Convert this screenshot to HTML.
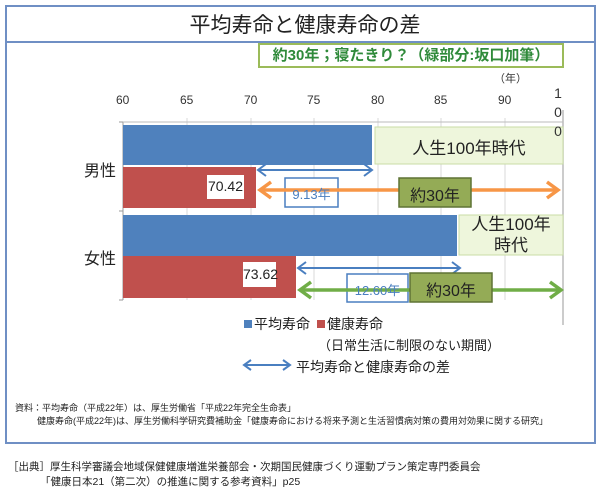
<!DOCTYPE html>
<html><head><meta charset="utf-8"><style>
body{margin:0;width:610px;height:491px;background:#fff;position:relative;overflow:hidden;font-family:"Liberation Sans","Noto Sans CJK JP",sans-serif;}
.a{position:absolute;white-space:nowrap;}
</style></head><body>
<div class="a" style="left:5px;top:5px;width:587px;height:435px;border:2px solid #6f8fc4;"></div>
<div class="a" style="left:5px;top:41px;width:590px;height:2px;background:#6f8fc4;"></div>
<div class="a" style="left:0;width:610px;top:9px;text-align:center;font-size:21px;color:#222;">平均寿命と健康寿命の差</div>
<div class="a" style="left:258px;top:43px;width:306px;height:25px;border:2px solid #9bbb59;box-sizing:border-box;text-align:center;line-height:21px;font-size:15px;font-weight:bold;color:#2f8a3a;">約30年；寝たきり？（緑部分:坂口加筆）</div>
<div class="a" style="left:494px;top:70px;font-size:11px;color:#333;">（年）</div>
<svg class="a" style="left:0;top:0" width="610" height="491">
<g stroke="#d9d9d9" stroke-width="1">
<line x1="187" y1="118" x2="187" y2="300"/><line x1="251" y1="118" x2="251" y2="300"/><line x1="314" y1="118" x2="314" y2="300"/><line x1="378" y1="118" x2="378" y2="300"/><line x1="441" y1="118" x2="441" y2="300"/><line x1="505" y1="118" x2="505" y2="300"/>
</g>
<line x1="123" y1="122" x2="123" y2="300" stroke="#999"/>
<line x1="123" y1="122" x2="563" y2="122" stroke="#bbb"/>
<line x1="119" y1="122" x2="123" y2="122" stroke="#999"/><line x1="119" y1="211" x2="123" y2="211" stroke="#999"/><line x1="119" y1="300" x2="123" y2="300" stroke="#999"/>
<line x1="563" y1="110" x2="563" y2="325" stroke="#bbb" stroke-width="1.5"/>
<rect x="123" y="125" width="249" height="40" fill="#4f81bd"/>
<rect x="123" y="167" width="133" height="41" fill="#c0504d"/>
<rect x="123" y="215" width="334" height="41" fill="#4f81bd"/>
<rect x="123" y="256" width="173" height="42" fill="#c0504d"/>
<rect x="375" y="127" width="188" height="37" fill="#eef6dc" stroke="#c9dca6"/>
<rect x="459" y="215" width="104" height="40" fill="#eef6dc" stroke="#c9dca6"/>
<rect x="207" y="175" width="37" height="24" fill="#fff"/>
<rect x="243" y="262" width="33" height="25" fill="#fff"/>
<g stroke="#4a7fc0" stroke-width="2" fill="none">
<line x1="258" y1="170" x2="372" y2="170"/><polyline points="266,164 258,170 266,176"/><polyline points="364,164 372,170 364,176"/>
<line x1="298" y1="268" x2="460" y2="268"/><polyline points="306,262 298,268 306,274"/><polyline points="452,262 460,268 452,274"/>
</g>
<rect x="285" y="178" width="53" height="29" fill="#fff" stroke="#4a7fc0" stroke-width="1.5"/>
<rect x="347" y="274" width="61" height="28" fill="#fff" stroke="#4a7fc0" stroke-width="1.5"/>
<g stroke="#f79646" stroke-width="3.5" fill="none">
<line x1="260" y1="190" x2="558" y2="190"/><polyline points="271,182 260,190 271,198"/><polyline points="547,182 558,190 547,198"/>
</g>
<g stroke="#70ad47" stroke-width="3.5" fill="none">
<line x1="300" y1="290" x2="561" y2="290"/><polyline points="311,282 300,290 311,298"/><polyline points="550,282 561,290 550,298"/>
</g>
<rect x="399" y="178" width="72" height="29" fill="#94ab56" stroke="#5e7335" stroke-width="1.5"/>
<rect x="410" y="273" width="82" height="29" fill="#94ab56" stroke="#5e7335" stroke-width="1.5"/>
<g stroke="#4a7fc0" stroke-width="2" fill="none">
<line x1="244" y1="365" x2="290" y2="365"/><polyline points="251,360 244,365 251,370"/><polyline points="283,360 290,365 283,370"/>
</g>
<rect x="244" y="320" width="8" height="8" fill="#4f81bd"/>
<rect x="317" y="320" width="8" height="8" fill="#c0504d"/>
</svg>
<div class="a" style="left:116px;top:93px;font-size:12px;color:#333;">60</div>
<div class="a" style="left:180px;top:93px;font-size:12px;color:#333;">65</div>
<div class="a" style="left:244px;top:93px;font-size:12px;color:#333;">70</div>
<div class="a" style="left:307px;top:93px;font-size:12px;color:#333;">75</div>
<div class="a" style="left:371px;top:93px;font-size:12px;color:#333;">80</div>
<div class="a" style="left:434px;top:93px;font-size:12px;color:#333;">85</div>
<div class="a" style="left:498px;top:93px;font-size:12px;color:#333;">90</div>
<div class="a" style="left:553px;top:84px;font-size:14px;color:#333;line-height:19px;width:10px;text-align:center;">1<br>0<br>0</div>
<div class="a" style="left:84px;top:157px;font-size:16px;color:#222;">男性</div>
<div class="a" style="left:84px;top:245px;font-size:16px;color:#222;">女性</div>
<div class="a" style="left:375px;top:134px;width:188px;text-align:center;font-size:17px;color:#222;">人生100年時代</div>
<div class="a" style="left:459px;top:214px;width:104px;text-align:center;font-size:17px;color:#222;line-height:21px;">人生100年<br>時代</div>
<div class="a" style="left:207px;top:178px;width:37px;text-align:center;font-size:14px;color:#222;">70.42</div>
<div class="a" style="left:243px;top:266px;width:33px;text-align:center;font-size:14px;color:#222;">73.62</div>
<div class="a" style="left:285px;top:184px;width:53px;text-align:center;font-size:13px;color:#4a7fc0;">9.13年</div>
<div class="a" style="left:347px;top:280px;width:61px;text-align:center;font-size:13px;color:#4a7fc0;">12.60年</div>
<div class="a" style="left:399px;top:182px;width:72px;text-align:center;font-size:16px;color:#222;">約30年</div>
<div class="a" style="left:410px;top:277px;width:82px;text-align:center;font-size:16px;color:#222;">約30年</div>
<div class="a" style="left:254px;top:314px;font-size:14px;color:#222;">平均寿命</div>
<div class="a" style="left:327px;top:314px;font-size:14px;color:#222;">健康寿命</div>
<div class="a" style="left:318px;top:335px;font-size:13px;color:#222;">（日常生活に制限のない期間）</div>
<div class="a" style="left:296px;top:357px;font-size:14px;color:#222;">平均寿命と健康寿命の差</div>
<div class="a" style="left:15px;top:401px;font-size:9px;color:#222;">資料：平均寿命（平成22年）は、厚生労働省「平成22年完全生命表」</div>
<div class="a" style="left:37px;top:414px;font-size:9px;color:#222;">健康寿命(平成22年)は、厚生労働科学研究費補助金「健康寿命における将来予測と生活習慣病対策の費用対効果に関する研究」</div>
<div class="a" style="left:8px;top:459px;font-size:10.5px;color:#222;">［出典］厚生科学審議会地域保健健康増進栄養部会・次期国民健康づくり運動プラン策定専門委員会</div>
<div class="a" style="left:40px;top:474px;font-size:10.5px;color:#222;">「健康日本21（第二次）の推進に関する参考資料」p25</div>
</body></html>
